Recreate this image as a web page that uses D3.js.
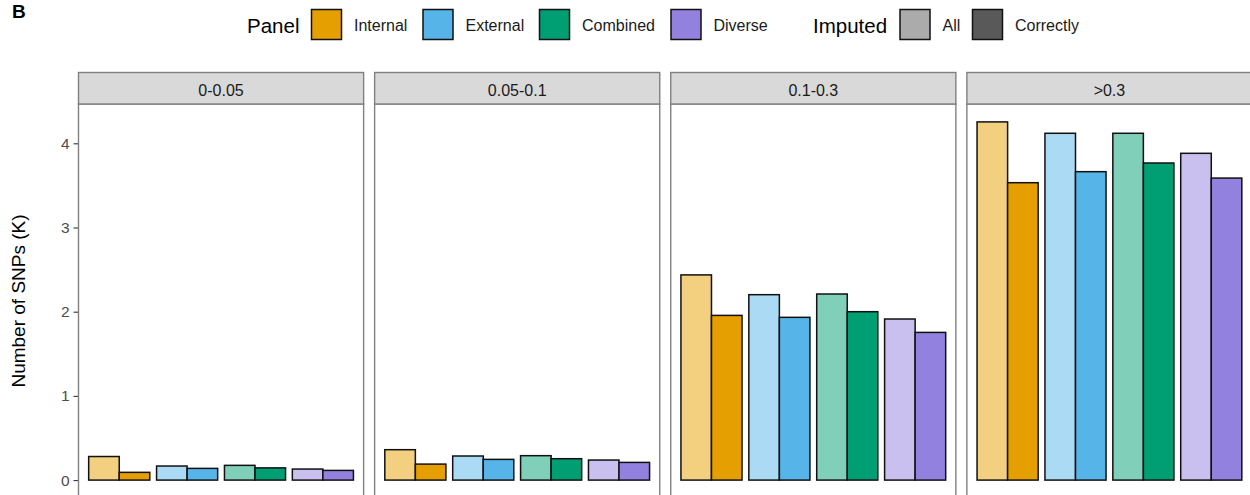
<!DOCTYPE html>
<html>
<head>
<meta charset="utf-8">
<script src="https://cdn.jsdelivr.net/npm/d3@7/dist/d3.min.js"></script>
<style>
  html, body { margin: 0; padding: 0; background: #fff; }
  svg { display: block; font-family: "Liberation Sans", Arial, sans-serif; }
</style>
</head>
<body>
<svg id="chart" width="1250" height="495"></svg>
<script>
// MAF bins (facets), reference panels and imputation sets
const bins = ["0-0.05", "0.05-0.1", "0.1-0.3", ">0.3"];
const panels = ["Internal", "External", "Combined", "Diverse"];
const imputed = ["All", "Correctly"];

// Number of SNPs (thousands), per bin, in panel order
const allImputed = [
  [0.28, 0.167, 0.175, 0.131],
  [0.361, 0.286, 0.29, 0.238],
  [2.437, 2.202, 2.21, 1.913],
  [4.254, 4.119, 4.119, 3.881]
];
const correctlyImputed = [
  [0.092, 0.139, 0.145, 0.115],
  [0.19, 0.246, 0.254, 0.21],
  [1.956, 1.933, 2.0, 1.754],
  [3.532, 3.663, 3.766, 3.587]
];
const yTicks = [0, 1, 2, 3, 4];

const panelColors = ["#E69F00", "#56B4E9", "#009E73", "#9381E0"];
const imputedKeyColors = ["#ABABAB", "#595959"];

const svg = d3.select("#chart");

// Long-format rows
const rows = [];
bins.forEach((b, bi) => {
  panels.forEach((p, pi) => {
    rows.push({ bin: b, panel: p, imputed: "All", value: allImputed[bi][pi] });
    rows.push({ bin: b, panel: p, imputed: "Correctly", value: correctlyImputed[bi][pi] });
  });
});

const color = d3.scaleOrdinal().domain(panels).range(panelColors);
const fillFor = d => {
  const c = d3.color(color(d.panel));
  if (d.imputed === "All") {
    // half-transparent tone over white
    return d3.interpolateRgb(c, "#ffffff")(0.5);
  }
  return c.formatHex();
};

// Facet layout
const stripTop = 72.5, stripH = 31.5;
const panelTop = stripTop + stripH;
const panelH = 394;
const facetX = d3.scaleBand().domain(bins).range([78.5, 1252]).paddingInner(11 / 296).paddingOuter(0);
const panelW = facetX.bandwidth();

const maxV = d3.max(rows, d => d.value);
const y = d3.scaleLinear()
  .domain([-0.05 * maxV, maxV * 1.05])
  .range([panelTop + panelH, panelTop]);

const xPanel = d3.scaleBand().domain(panels).range([0, panelW]).paddingInner(0.1).paddingOuter(0.15);
const xImp = d3.scaleBand().domain(imputed).range([0, xPanel.bandwidth()]);

// Figure label
svg.append("text")
  .attr("x", 12).attr("y", 17.5)
  .attr("font-size", 19).attr("font-weight", "bold").attr("fill", "#000")
  .text("B");

// Y axis on the first facet
const yAxis = d3.axisLeft(y).tickValues(yTicks).tickSize(5).tickPadding(4).tickFormat(d3.format("d"));
const yg = svg.append("g").attr("transform", `translate(${facetX(bins[0])},0)`).call(yAxis);
yg.select(".domain").remove();
yg.selectAll(".tick line").attr("stroke", "#333").attr("stroke-width", 1.1);
yg.selectAll(".tick text").attr("fill", "#4D4D4D").attr("font-size", 15.5).attr("font-family", "Liberation Sans, Arial, sans-serif");

svg.append("text")
  .attr("transform", `translate(25,${panelTop + panelH / 2}) rotate(-90)`)
  .attr("text-anchor", "middle")
  .attr("font-size", 19).attr("fill", "#000")
  .text("Number of SNPs (K)");

// Facets
const facet = svg.selectAll("g.facet").data(bins).join("g")
  .attr("class", "facet")
  .attr("transform", d => `translate(${facetX(d)},0)`);

facet.append("rect")
  .attr("x", 0).attr("y", panelTop).attr("width", panelW).attr("height", panelH)
  .attr("fill", "#fff");

facet.each(function(b) {
  const g = d3.select(this);
  g.selectAll("rect.bar").data(rows.filter(r => r.bin === b)).join("rect")
    .attr("class", "bar")
    .attr("x", d => xPanel(d.panel) + xImp(d.imputed))
    .attr("width", xImp.bandwidth())
    .attr("y", d => y(d.value))
    .attr("height", d => y(0) - y(d.value))
    .attr("fill", fillFor)
    .attr("stroke", "#111")
    .attr("stroke-width", 1.5);
});

facet.append("rect")
  .attr("x", 0).attr("y", panelTop).attr("width", panelW).attr("height", panelH)
  .attr("fill", "none").attr("stroke", "#808080").attr("stroke-width", 1.4);

facet.append("rect")
  .attr("x", 0).attr("y", stripTop).attr("width", panelW).attr("height", stripH)
  .attr("fill", "#D9D9D9").attr("stroke", "#808080").attr("stroke-width", 1.4);

facet.append("text")
  .attr("x", panelW / 2).attr("y", stripTop + 23)
  .attr("text-anchor", "middle")
  .attr("font-size", 16).attr("fill", "#1A1A1A")
  .text(d => d);

// Legends
const legendY = 9.5, keySize = 30;
const legend = svg.append("g");

legend.append("text").attr("x", 247).attr("y", 33).attr("font-size", 20.5).attr("fill", "#000").text("Panel");
const panelKeyX = [311.5, 423, 539.5, 671];
panels.forEach((p, i) => {
  legend.append("rect")
    .attr("x", panelKeyX[i]).attr("y", legendY).attr("width", keySize).attr("height", keySize)
    .attr("fill", color(p)).attr("stroke", "#111").attr("stroke-width", 1.5);
  legend.append("text")
    .attr("x", panelKeyX[i] + keySize + 12.5).attr("y", 31)
    .attr("font-size", 16).attr("fill", "#1A1A1A").text(p);
});

legend.append("text").attr("x", 813).attr("y", 33).attr("font-size", 20.5).attr("fill", "#000").text("Imputed");
const impKeyX = [900, 972.5];
imputed.forEach((m, i) => {
  legend.append("rect")
    .attr("x", impKeyX[i]).attr("y", legendY).attr("width", keySize).attr("height", keySize)
    .attr("fill", imputedKeyColors[i]).attr("stroke", "#111").attr("stroke-width", 1.5);
  legend.append("text")
    .attr("x", impKeyX[i] + keySize + 12.5).attr("y", 31)
    .attr("font-size", 16).attr("fill", "#1A1A1A").text(m);
});
</script>
</body>
</html>
